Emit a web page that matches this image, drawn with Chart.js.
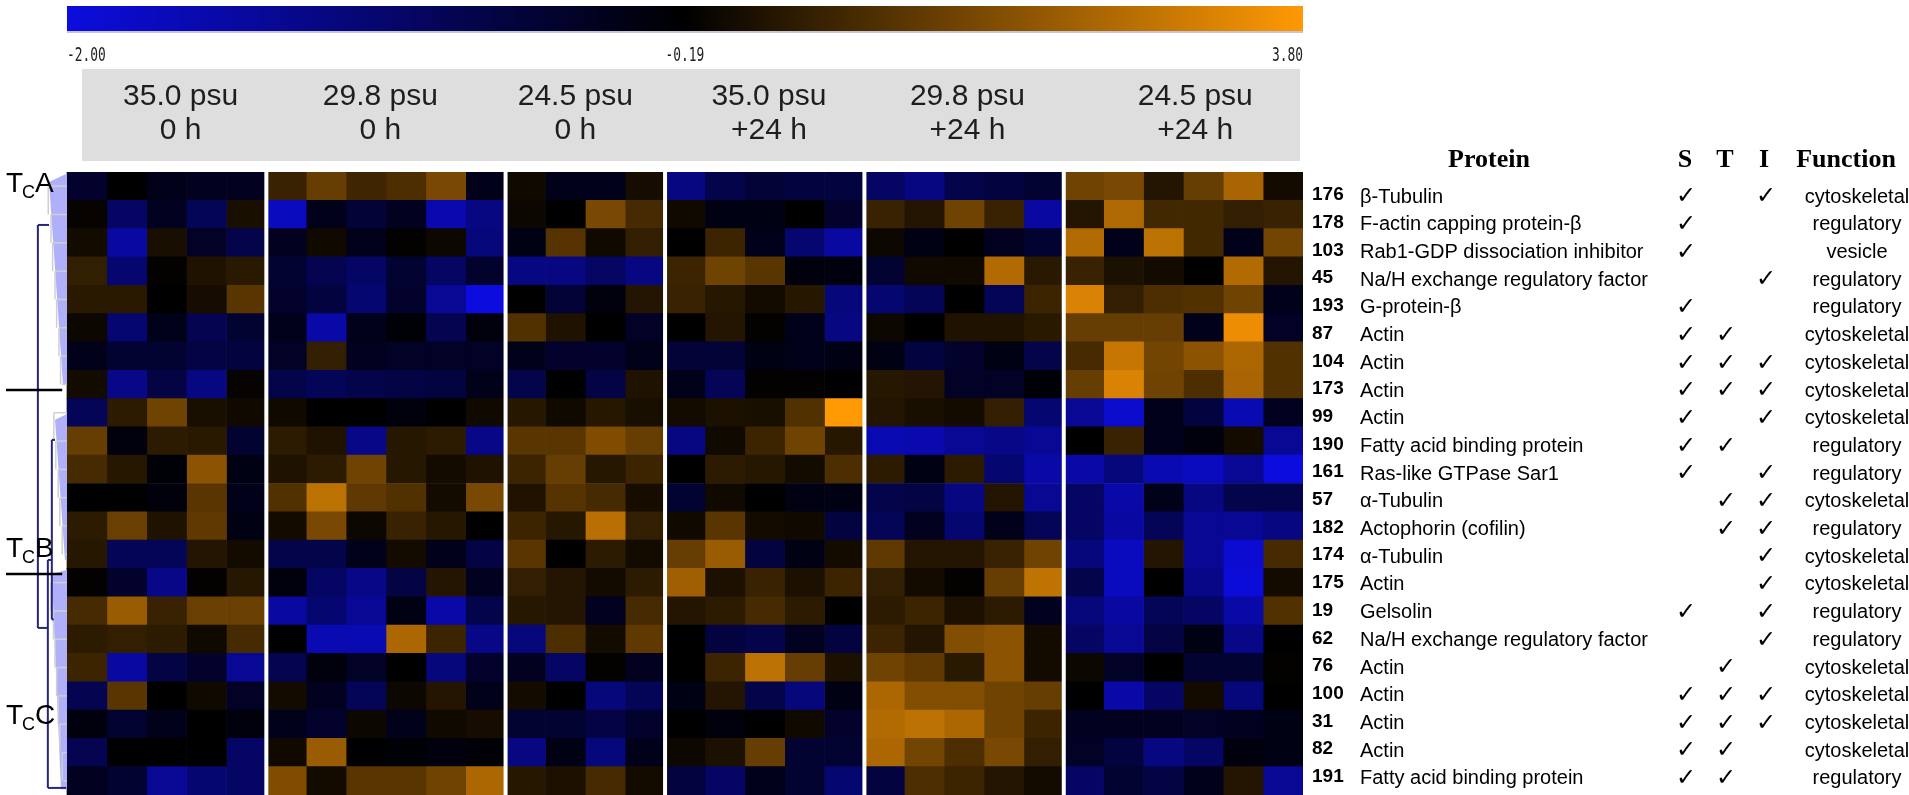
<!DOCTYPE html>
<html><head><meta charset="utf-8">
<script src="https://cdn.jsdelivr.net/npm/chart.js@4.4.1/dist/chart.umd.min.js"></script>
<style>html,body{margin:0;padding:0;background:#fff;overflow:hidden}canvas{display:block}</style>
</head><body>
<canvas id="c" width="1909" height="795"></canvas>
<script>
// ---------------- DATA ----------------
const groupSalinity = ['35.0 psu','29.8 psu','24.5 psu','35.0 psu','29.8 psu','24.5 psu'];
const groupTime = ['0 h','0 h','0 h','+24 h','+24 h','+24 h'];
const colorTickLabels = ['-2.00','-0.19','3.80'];
const colorTickValues = [-2.00, -0.19, 3.80];

const proteinIds = ['176','178','103','45','193','87','104','173','99','190','161','57','182','174','175','19','62','76','100','31','82','191'];
const proteinNames = ['β-Tubulin','F-actin capping protein-β','Rab1-GDP dissociation inhibitor','Na/H exchange regulatory factor','G-protein-β','Actin','Actin','Actin','Actin','Fatty acid binding protein','Ras-like GTPase Sar1','α-Tubulin','Actophorin (cofilin)','α-Tubulin','Actin','Gelsolin','Na/H exchange regulatory factor','Actin','Actin','Actin','Actin','Fatty acid binding protein'];
const markS = [1,1,1,0,1,1,1,1,1,1,1,0,0,0,0,1,0,0,1,1,1,1];
const markT = [0,0,0,0,0,1,1,1,0,1,0,1,1,0,0,0,0,1,1,1,1,1];
const markI = [1,0,0,1,0,0,1,1,1,0,1,1,1,1,1,1,1,0,1,1,0,0];
const functionNames = ['cytoskeletal','regulatory','vesicle','regulatory','regulatory','cytoskeletal','cytoskeletal','cytoskeletal','cytoskeletal','regulatory','regulatory','cytoskeletal','regulatory','cytoskeletal','cytoskeletal','regulatory','regulatory','cytoskeletal','cytoskeletal','cytoskeletal','cytoskeletal','regulatory'];
const clusterNames = ['A','B','C'];

// expression values, rows = proteins (top to bottom), columns = replicate gels
const g35_0h = [
 [-0.55,-0.2,-0.4,-0.45,-0.45],[-0.1,-1.0,-0.45,-0.9,0.2],[0.1,-1.5,0.2,-0.5,-0.8],[0.6,-1.1,-0.15,0.3,0.45],
 [0.45,0.45,-0.19,0.15,1.2],[0.0,-1.1,-0.4,-0.85,-0.6],[-0.4,-0.6,-0.6,-0.75,-0.7],[0.1,-1.3,-0.75,-1.25,-0.1],
 [-0.9,0.5,1.55,0.2,0.05],[1.4,-0.3,0.5,0.45,-0.6],[0.9,0.4,-0.25,2.0,-0.35],[-0.2,-0.2,-0.28,1.2,-0.4],
 [0.5,1.45,0.3,1.3,-0.35],[0.4,-0.9,-0.9,0.35,0.1],[-0.15,-0.55,-1.3,-0.15,0.4],[0.9,2.2,0.7,1.45,1.45],
 [0.5,0.6,0.5,0.05,0.9],[0.75,-1.5,-0.75,-0.55,-1.4],[-0.85,1.2,-0.2,0.05,-0.5],[-0.3,-0.6,-0.4,-0.2,-0.3],
 [-0.85,-0.2,-0.2,-0.2,-1.0],[-0.45,-0.6,-1.4,-1.1,-1.0]];
const g298_0h = [
 [0.7,1.4,0.8,1.0,1.7,-0.4],[-1.75,-0.4,-0.65,-0.45,-1.6,-1.25],[-0.45,0.05,-0.4,-0.15,0.0,-1.2],[-0.6,-0.85,-1.0,-0.6,-1.0,-0.55],
 [-0.55,-0.7,-1.1,-0.55,-1.4,-2.0],[-0.4,-1.55,-0.4,-0.25,-0.85,-0.3],[-0.5,0.6,-0.45,-0.5,-0.5,-0.5],[-0.8,-0.9,-0.8,-0.75,-0.7,-0.4],
 [0.05,-0.2,-0.2,-0.3,-0.2,0.05],[0.5,0.3,-1.3,0.4,0.5,-1.3],[0.3,0.5,1.55,0.4,0.1,0.3],[1.1,2.75,1.3,1.1,0.1,1.7],
 [0.1,1.7,0.0,0.7,0.4,-0.2],[-0.8,-0.8,-0.4,0.1,-0.4,-0.75],[-0.3,-1.0,-1.3,-0.75,0.35,-0.45],[-1.5,-1.1,-1.4,-0.35,-1.55,-0.8],
 [-0.2,-1.65,-1.65,2.5,0.75,-1.3],[-0.85,-0.3,-0.5,-0.2,-1.2,-0.55],[0.1,-0.45,-0.9,0.0,0.35,-0.4],[-0.4,-0.55,0.0,-0.4,0.05,0.15],
 [0.05,2.2,-0.2,-0.25,-0.3,-0.25],[1.8,0.1,1.2,1.2,1.55,2.5]];
const g245_0h = [
 [0.05,-0.4,-0.4,0.15],[0.0,-0.2,1.7,0.9],[-0.35,1.15,0.05,0.6],[-1.25,-1.25,-1.0,-1.25],
 [-0.2,-0.65,-0.3,0.35],[1.1,0.3,-0.2,-0.5],[-0.4,-0.55,-0.55,-0.4],[-0.8,-0.2,-0.75,0.3],
 [0.4,0.05,0.4,0.2],[1.2,1.2,1.8,1.4],[0.75,1.4,0.4,0.75],[0.3,1.15,0.9,0.15],
 [0.75,0.4,2.7,0.6],[1.2,-0.2,0.5,0.1],[0.6,0.35,0.1,0.5],[0.4,0.35,-0.45,0.9],
 [-1.2,1.0,0.1,1.3],[-0.45,-1.0,-0.15,-0.45],[0.1,-0.2,-1.2,-0.9],[-0.6,-0.6,-0.75,-0.55],
 [-1.25,-0.35,-1.2,-0.4],[0.4,0.25,0.9,0.1]];
const g35_24h = [
 [-1.25,-0.8,-0.65,-0.7,-0.7],[0.05,-0.35,-0.35,-0.2,-0.55],[-0.2,0.75,-0.4,-1.1,-1.5],[0.75,1.55,1.2,-0.3,-0.3],
 [0.7,0.4,0.1,0.4,-1.2],[-0.2,0.35,-0.15,-0.4,-1.25],[-0.65,-0.65,-0.35,-0.4,-0.35],[-0.4,-0.9,-0.15,-0.15,-0.2],
 [0.1,0.25,0.2,1.1,3.8],[-1.25,0.05,0.75,1.55,0.4],[-0.2,0.5,0.4,0.1,1.0],[-0.6,0.05,-0.2,-0.35,-0.35],
 [0.05,1.2,0.1,0.05,-0.7],[1.4,2.2,-0.7,-0.35,0.1],[2.3,0.25,0.7,0.25,0.75],[0.35,0.5,0.9,0.5,-0.2],
 [-0.2,-0.7,-0.8,-0.45,-0.7],[-0.2,0.75,2.75,1.4,0.25],[-0.35,0.35,-0.8,-1.2,-0.35],[-0.2,-0.3,-0.2,0.05,-0.55],
 [0.0,0.25,1.4,-0.6,-0.6],[-0.7,-1.0,-0.4,-0.6,-1.1]];
const g298_24h = [
 [-1.0,-1.25,-0.8,-0.7,-0.6],[0.7,0.35,1.55,0.7,-1.5],[0.0,-0.35,-0.2,-0.45,-0.6],[-0.6,0.05,0.05,2.6,0.45],
 [-1.1,-0.9,-0.2,-0.9,0.75],[0.0,-0.2,0.3,0.3,0.45],[-0.35,-0.7,-0.55,-0.35,-0.8],[0.4,0.35,-0.5,-0.5,-0.25],
 [0.35,0.2,0.1,0.6,-1.1],[-1.65,-1.6,-1.4,-1.3,-1.4],[0.5,-0.35,0.5,-1.1,-1.55],[-0.8,-0.75,-1.25,0.35,-1.4],
 [-0.9,-0.45,-1.1,-0.4,-0.9],[1.3,0.35,0.35,0.7,1.55],[0.6,0.1,-0.15,1.4,2.8],[0.5,0.75,0.25,0.5,-0.45],
 [0.75,0.35,1.85,2.0,0.1],[1.55,1.3,0.45,2.0,0.1],[2.5,1.85,1.85,1.55,1.4],[2.6,2.75,2.5,1.55,0.75],
 [2.5,1.6,1.0,1.7,0.6],[-0.7,1.0,0.75,0.35,0.1]];
const g245_24h = [
 [1.55,1.7,0.35,1.4,2.45,0.1],[0.35,2.55,0.85,0.85,0.6,0.7],[2.6,-0.4,2.75,0.85,-0.4,1.6],[0.7,0.25,0.1,-0.2,2.6,0.35],
 [3.2,0.6,1.0,1.1,1.55,-0.4],[1.4,1.4,1.4,-0.4,3.5,-0.5],[0.9,2.9,1.6,2.0,2.5,1.1],[1.4,3.2,1.55,1.0,2.45,1.1],
 [-1.4,-1.85,-0.4,-0.7,-1.65,-0.45],[-0.2,0.7,-0.4,-0.3,0.1,-1.4],[-1.55,-1.2,-1.65,-1.75,-1.4,-2.0],[-1.0,-1.55,-0.4,-1.25,-0.8,-0.8],
 [-1.0,-1.5,-0.9,-1.4,-1.4,-1.25],[-1.2,-1.75,0.35,-1.4,-1.9,0.9],[-0.8,-1.75,-0.2,-1.3,-1.95,0.1],[-1.2,-1.5,-0.9,-1.0,-1.55,1.1],
 [-1.0,-1.4,-0.75,-0.35,-1.3,-0.2],[0.0,-0.5,-0.2,-0.6,-0.6,-0.15],[-0.2,-1.55,-1.0,0.1,-1.2,-0.2],[-0.45,-0.45,-0.45,-0.5,-0.45,-0.35],
 [-0.5,-0.7,-1.25,-1.0,-0.3,-0.35],[-1.0,-0.6,-0.75,-0.4,0.35,-1.4]];
const groupData = [g35_0h, g298_0h, g245_0h, g35_24h, g298_24h, g245_24h];

// dendrogram (x in heat-map column units left of the map, y in row units)
const dendroNavy = [
 [-0.73,1.37,-0.73,15.6],[-0.73,1.37,-0.45,1.37],[-0.73,15.6,-0.48,15.6],
 [-0.48,13.2,-0.48,21.25],[-0.48,13.2,-0.40,13.2],[-0.48,21.25,-0.02,21.25],
 [-0.38,8.96,-0.38,15.3],[-0.38,8.96,-0.30,8.96],[-0.38,15.3,-0.33,15.3]];
const dendroWedges = [
 [[-0.45,-0.15],[0,-0.45],[0,7.0],[-0.1,7.0]],
 [[-0.30,8.25],[0,8.05],[0,13.2],[-0.05,13.2]],
 [[-0.38,13.7],[0,13.55],[0,21.3],[-0.15,21.3]]];
const grayLeafX = [-0.47,-0.4,-0.36,-0.3,-0.26,-0.2,-0.16,-0.12,-0.33,-0.28,-0.22,-0.18,-0.12,-0.08,-0.4,-0.34,-0.3,-0.26,-0.22,-0.18,-0.12,-0.08];
const leafCluster = [0,0,0,0,0,0,0,0,1,1,1,1,1,1,2,2,2,2,2,2,2,2];
const clusterLines = [7.2, 13.7];
const clusterLabelRows = [0.2, 13.1, 19.0];

// ---------------- COLOURS ----------------
function heatColor(v){
  const lo = colorTickValues[0], mid = colorTickValues[1], hi = colorTickValues[2];
  if (v <= mid){
    const t = Math.min(1,(mid-v)/(mid-lo));
    return `rgb(${Math.round(12*t)},${Math.round(12*t)},${Math.round(222*t)})`;
  }
  const t = Math.min(1,(v-mid)/(hi-mid));
  return `rgb(${Math.round(255*t)},${Math.round(153*t)},${Math.round(4*t)})`;
}

// columns
const columns = [];
const groupStart = [];
groupData.forEach(g => { groupStart.push(columns.length); for (let j=0;j<g[0].length;j++) columns.push(g.map(r=>r[j])); });
const nCols = columns.length;
const datasets = columns.map((vals,c)=>({
  data: vals.map(()=>[c,c+1]),
  backgroundColor: vals.map(heatColor),
  borderWidth: 0, grouped: false, barPercentage: 1, categoryPercentage: 1
}));

const LEFT_UNITS = 1.68;
const SANS = '"Liberation Sans", Arial, sans-serif';
// header label centres as fractions of the header box width
const headerFrac = [0.081, 0.245, 0.405, 0.564, 0.727, 0.914];

const decor = {
  id:'decor',
  afterDraw(chart){
    const ctx = chart.ctx, xs = chart.scales.x, ys = chart.scales.y, ca = chart.chartArea;
    const X = u => xs.getPixelForValue(u);
    const Y = r => ys.getPixelForValue(r);
    const x0 = X(0), x1 = X(nCols);
    ctx.save();
    // group separators
    ctx.strokeStyle = '#fff'; ctx.lineWidth = 4;
    groupStart.slice(1).forEach(s=>{ctx.beginPath();ctx.moveTo(X(s),ca.top);ctx.lineTo(X(s),ca.bottom);ctx.stroke();});
    // colour bar
    const grd = ctx.createLinearGradient(x0,0,x1,0);
    grd.addColorStop(0,heatColor(colorTickValues[0]));
    grd.addColorStop(0.5,heatColor(colorTickValues[1]));
    grd.addColorStop(1,heatColor(colorTickValues[2]));
    ctx.fillStyle = grd; ctx.fillRect(x0,6,x1-x0,26);
    ctx.fillStyle = '#c4c4d4'; ctx.fillRect(x0,31,x1-x0,2);
    ctx.fillStyle = '#222'; ctx.font = '14px "DejaVu Sans Mono", monospace'; ctx.textBaseline='middle';
    const tickPos = [[x0,'left'],[(x0+x1)/2,'center'],[x1,'right']];
    colorTickLabels.forEach((t,i)=>{
      ctx.save(); ctx.translate(tickPos[i][0],56); ctx.scale(0.92,1.35);
      ctx.textAlign = tickPos[i][1]; ctx.fillText(t,0,0); ctx.restore();
    });
    // header box
    const bx0 = x0+15, bx1 = x1-3;
    ctx.fillStyle = '#dedede'; ctx.fillRect(bx0,69,bx1-bx0,92);
    ctx.fillStyle = '#1e1e1e'; ctx.font = '30px '+SANS; ctx.textAlign='center'; ctx.textBaseline='middle';
    groupSalinity.forEach((s,i)=>{
      const cx = bx0 + (bx1-bx0)*headerFrac[i];
      ctx.fillText(s,cx,97); ctx.fillText(groupTime[i],cx,131);
    });
    // dendrogram wedges
    ctx.fillStyle = 'rgb(176,176,250)';
    dendroWedges.forEach(w=>{ctx.beginPath();w.forEach((p,k)=>{k?ctx.lineTo(X(p[0]),Y(p[1])):ctx.moveTo(X(p[0]),Y(p[1]));});ctx.closePath();ctx.fill();});
    // gray leaf tree
    ctx.strokeStyle = '#cfcfcf'; ctx.lineWidth = 1.5;
    grayLeafX.forEach((gx,r)=>{
      ctx.beginPath(); ctx.moveTo(X(gx),Y(r)); ctx.lineTo(X(0),Y(r)); ctx.stroke();
      if (r+1<grayLeafX.length && leafCluster[r+1]===leafCluster[r]){
        ctx.beginPath(); ctx.moveTo(X(gx),Y(r)); ctx.lineTo(X(gx),Y(r+1)); ctx.stroke();
      }
    });
    // navy tree
    ctx.strokeStyle = '#26267a'; ctx.lineWidth = 2;
    dendroNavy.forEach(s=>{ctx.beginPath();ctx.moveTo(X(s[0]),Y(s[1]));ctx.lineTo(X(s[2]),Y(s[3]));ctx.stroke();});
    // cluster separators
    ctx.strokeStyle = '#000'; ctx.lineWidth = 2.5;
    clusterLines.forEach(r=>{ctx.beginPath();ctx.moveTo(X(-LEFT_UNITS)+6,Y(r));ctx.lineTo(X(-0.12),Y(r));ctx.stroke();});
    // cluster labels T_C A/B/C
    ctx.fillStyle = '#000'; ctx.textAlign='left'; ctx.textBaseline='alphabetic';
    clusterNames.forEach((nm,i)=>{
      const by = Y(clusterLabelRows[i]); let x = X(-LEFT_UNITS)+6;
      ctx.font = '28px '+SANS; ctx.fillText('T',x,by); x += ctx.measureText('T').width - 1;
      ctx.font = '18px '+SANS; ctx.fillText('C',x,by+6); x += ctx.measureText('C').width;
      ctx.font = '28px '+SANS; ctx.fillText(nm,x,by);
    });
    // table
    const tx = x1 + 9, nameX = x1 + 57, sX = x1 + 383, tX = x1 + 423, iX = x1 + 463, fX = x1 + 554;
    ctx.textBaseline = 'middle';
    ctx.font = 'bold 26px "Liberation Serif", "Times New Roman", serif'; ctx.textAlign='center';
    const hy = 160;
    ctx.fillText('Protein', x1+186, hy); ctx.fillText('S', sX-1, hy); ctx.fillText('T', tX-1, hy); ctx.fillText('I', iX-2, hy); ctx.fillText('Function', x1+543, hy);
    const nR = proteinIds.length;
    proteinIds.forEach((id,i)=>{
      const y = Y(i) + 11 - 13*i/(nR-1);
      ctx.textAlign='left';
      ctx.font = 'bold 19px '+SANS; ctx.fillText(id,tx,y-2);
      ctx.font = '20px '+SANS; ctx.fillText(proteinNames[i],nameX,y);
      ctx.textAlign='center'; ctx.font = '24px "DejaVu Sans", sans-serif';
      if (markS[i]) ctx.fillText('✓',sX,y);
      if (markT[i]) ctx.fillText('✓',tX,y);
      if (markI[i]) ctx.fillText('✓',iX,y);
      ctx.font = '20px '+SANS; ctx.fillText(functionNames[i],fX,y);
    });
    ctx.restore();
  }
};

function make(){
  new Chart(document.getElementById('c'),{
    type:'bar',
    data:{labels:proteinIds,datasets},
    options:{
      indexAxis:'y', responsive:false, animation:false,
      layout:{padding:{left:0,right:606,top:172,bottom:0}},
      scales:{
        x:{type:'linear',min:-LEFT_UNITS,max:nCols,display:false},
        y:{type:'category',display:false,offset:true}
      },
      plugins:{legend:{display:false},tooltip:{enabled:false}}
    },
    plugins:[decor]
  });
}
const fontsWanted = ['20px "Liberation Sans"','bold 20px "Liberation Sans"','bold 26px "Liberation Serif"','14px "DejaVu Sans Mono"','20px "DejaVu Sans"'];
Promise.all(fontsWanted.map(f=>document.fonts.load(f))).then(make,make);
</script>
</body></html>
